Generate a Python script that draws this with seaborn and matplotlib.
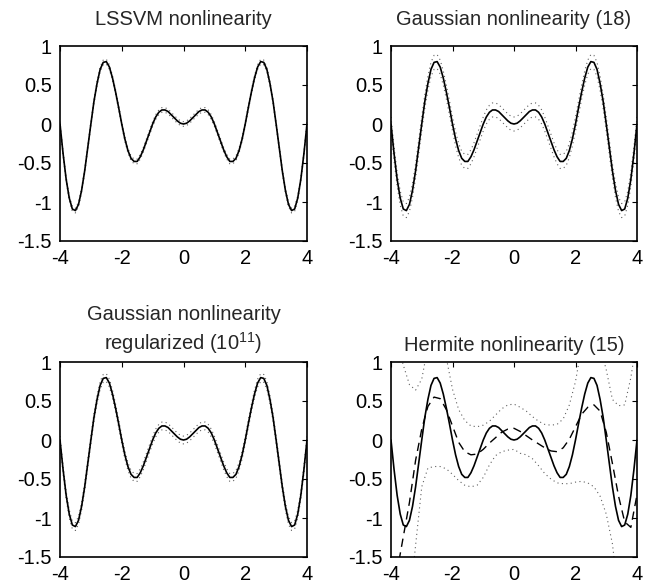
import numpy as np
import matplotlib
matplotlib.use("Agg")
import matplotlib.pyplot as plt
import seaborn as sns

# ---------------- data ----------------
# true nonlinearity sampled on -4..4, step 0.1
x_true = np.linspace(-4, 4, 81)
y_true = [0.00, -0.38, -0.71, -0.95, -1.09, -1.11, -1.03, -0.85, -0.60, -0.30,
          0.00, 0.29, 0.52, 0.70, 0.79, 0.80, 0.73, 0.59, 0.41, 0.21,
          0.00, -0.19, -0.34, -0.44, -0.48, -0.48, -0.42, -0.33, -0.22, -0.11,
          0.00, 0.09, 0.15, 0.18, 0.18, 0.16, 0.12, 0.08, 0.04, 0.01,
          0.00, 0.01, 0.04, 0.08, 0.12, 0.16, 0.18, 0.18, 0.15, 0.09,
          0.00, -0.11, -0.22, -0.33, -0.42, -0.48, -0.48, -0.44, -0.34, -0.19,
          0.00, 0.21, 0.41, 0.59, 0.73, 0.80, 0.79, 0.70, 0.52, 0.29,
          0.00, -0.30, -0.60, -0.85, -1.03, -1.11, -1.09, -0.95, -0.71, -0.38,
          0.00]

# half-widths of the (tight) dotted bands in the first three panels
band_lssvm = 0.03
band_gauss = 0.09
band_gauss_reg = 0.05

# Hermite estimate and its dotted bounds, sampled on -4..4, step 0.2
x_herm = np.linspace(-4, 4, 41)
herm_est = [-2.30, -1.68, -1.24, -0.80, -0.26, 0.14, 0.43, 0.55, 0.53, 0.39,
            0.18, -0.03, -0.15, -0.19, -0.18, -0.12, -0.04, 0.03, 0.10, 0.14,
            0.15, 0.11, 0.055, 0.00, -0.05, -0.10, -0.14, -0.15, -0.10, 0.01,
            0.17, 0.33, 0.42, 0.45, 0.37, 0.10, -0.30, -0.72, -1.05, -1.12,
            -0.70]
herm_upper = [1.60, 1.25, 0.96, 0.71, 0.64, 0.78, 1.20, 1.40, 1.40, 1.05,
              0.65, 0.39, 0.25, 0.18, 0.17, 0.19, 0.24, 0.32, 0.40, 0.45,
              0.46, 0.42, 0.37, 0.30, 0.24, 0.20, 0.19, 0.20, 0.27, 0.45,
              0.75, 1.20, 1.40, 1.40, 1.20, 0.90, 0.52, 0.44, 0.45, 0.80,
              1.30]
herm_lower = [-3.50, -3.20, -2.70, -2.10, -1.35, -0.60, -0.36, -0.34, -0.34, -0.37,
              -0.44, -0.52, -0.58, -0.60, -0.58, -0.48, -0.32, -0.20, -0.15, -0.13,
              -0.12, -0.17, -0.19, -0.24, -0.33, -0.43, -0.50, -0.55, -0.56, -0.56,
              -0.54, -0.53, -0.55, -0.60, -0.72, -0.95, -1.33, -2.00, -2.60, -3.10,
              -3.50]

titles = ["LSSVM nonlinearity",
          "Gaussian nonlinearity (18)",
          "Gaussian nonlinearity\nregularized ($10^{11}$)",
          "Hermite nonlinearity (15)"]
xticks = [-4, -2, 0, 2, 4]
xtick_labels = ["-4", "-2", "0", "2", "4"]
yticks = [-1.5, -1, -0.5, 0, 0.5, 1]
ytick_labels = ["-1.5", "-1", "-0.5", "0", "0.5", "1"]

# ---------------- style ----------------
sns.set_style("white")
plt.rcParams["font.family"] = ["Liberation Sans", "DejaVu Sans"]
plt.rcParams["mathtext.fontset"] = "custom"
plt.rcParams["mathtext.rm"] = "Liberation Sans"
plt.rcParams["mathtext.it"] = "Liberation Sans"
plt.rcParams["mathtext.default"] = "regular"

fig = plt.figure(figsize=(6.53, 5.87), dpi=100)
W, H = 653, 587
boxes = [(60, 46, 307, 241), (391, 46, 637, 241),
         (60, 362, 307, 557), (391, 362, 637, 557)]
axes = []
for (l, t, r, b) in boxes:
    axes.append(fig.add_axes([l / W, 1 - b / H, (r - l) / W, (b - t) / H]))

dot_style = dict(color="#606060", linewidth=0.8, linestyle=(0, (1, 3)))
solid_style = dict(color="black", linewidth=1.2)

bands = [band_lssvm, band_gauss, band_gauss_reg]
yt = np.array(y_true)
for i in range(3):
    ax = axes[i]
    sns.lineplot(x=x_true, y=yt + bands[i], ax=ax, **dot_style)
    sns.lineplot(x=x_true, y=yt - bands[i], ax=ax, **dot_style)
    sns.lineplot(x=x_true, y=yt, ax=ax, **solid_style)

ax = axes[3]
sns.lineplot(x=x_herm, y=herm_upper, ax=ax, **dot_style)
sns.lineplot(x=x_herm, y=herm_lower, ax=ax, **dot_style)
sns.lineplot(x=x_herm, y=herm_est, ax=ax, color="black", linewidth=1.0,
             linestyle=(0, (6, 4)))
sns.lineplot(x=x_true, y=yt, ax=ax, **solid_style)

FS = 14.5
pads = [15, 15, 9, 8]
for ax, title, pad in zip(axes, titles, pads):
    ax.set_xlim(-4, 4)
    ax.set_ylim(-1.5, 1)
    ax.set_xticks(xticks)
    ax.set_xticklabels(xtick_labels)
    ax.set_yticks(yticks)
    ax.set_yticklabels(ytick_labels)
    ax.tick_params(direction="in", length=3.5, width=0.8, top=True, right=True,
                   labelsize=FS, colors="black", pad=6)
    for s in ax.spines.values():
        s.set_visible(True)
        s.set_color("black")
        s.set_linewidth(1.2)
    ax.set_xlabel("")
    ax.set_ylabel("")
    ax.set_title(title, fontsize=FS, pad=pad, linespacing=1.3)

fig.savefig("out.png", dpi=100, facecolor="white")
